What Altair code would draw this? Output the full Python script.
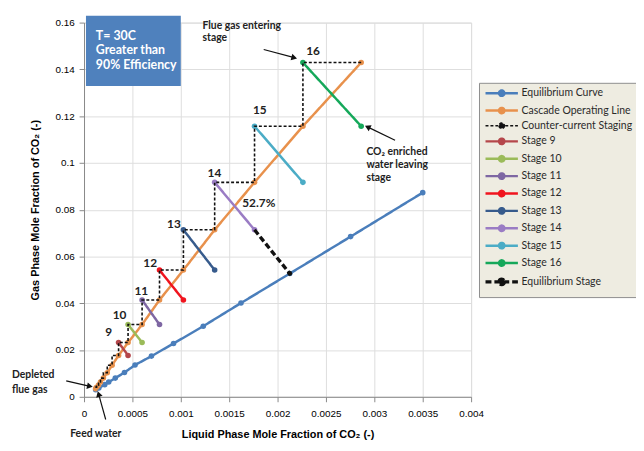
import altair as alt
import pandas as pd

# ---------------- data ----------------
eq_x = [0.00012, 0.000153, 0.000214, 0.000255, 0.000323, 0.000418, 0.000527,
        0.000697, 0.000925, 0.001232, 0.001622, 0.002126, 0.002755, 0.0035]
eq_y = [0.0030, 0.0038, 0.0052, 0.0063, 0.0080, 0.0104, 0.0136,
        0.0174, 0.0228, 0.0302, 0.0401, 0.0527, 0.0685, 0.0873]

# cascade operating line points P1..P16
op_x = [0.00012, 0.00013, 0.00015, 0.00017, 0.00020, 0.00024, 0.00029, 0.000357,
        0.000455, 0.00060, 0.00078, 0.001027, 0.00135, 0.001762, 0.002262, 0.002864]
op_y = [0.0035, 0.0041, 0.0050, 0.0063, 0.0080, 0.0103, 0.0135, 0.0177,
        0.0232, 0.0309, 0.0414, 0.0542, 0.0714, 0.0917, 0.1157, 0.1429]

stage_numbers = [9, 10, 11, 12, 13, 14, 15, 16]

eqstage_x = [0.001762, 0.002126]
eqstage_y = [0.0714, 0.0527]

series_names = ["Equilibrium Curve", "Cascade Operating Line", "Counter-current Staging",
                "Stage 9", "Stage 10", "Stage 11", "Stage 12", "Stage 13",
                "Stage 14", "Stage 15", "Stage 16", "Equilibrium Stage"]
series_colors = ["#4A7EBB", "#E8914C", "#111111",
                 "#B5474B", "#9BBB59", "#7E67A3", "#F0141E", "#375B8C",
                 "#9A7CC4", "#4BACC6", "#15A85A", "#111111"]
series_dash = [[1, 0], [1, 0], [3, 2], [1, 0], [1, 0], [1, 0], [1, 0], [1, 0],
               [1, 0], [1, 0], [1, 0], [6, 3]]
series_width = [2.5, 2.5, 1.6, 2.5, 2.5, 2.5, 2.5, 2.5, 2.5, 2.5, 2.5, 3.4]

stage_label_x = [0.000255, 0.000367, 0.000592, 0.000684, 0.000929, 0.001347, 0.001816, 0.002367]
stage_label_y = [0.0278, 0.0350, 0.0451, 0.0570, 0.0738, 0.0958, 0.1224, 0.1477]

pct_text = ["52.7%"]
pct_x = [0.001806]
pct_y = [0.0827]

box_x, box_x2 = [0.00002], [0.001]
box_y, box_y2 = [0.1629], [0.1329]
box_text = ["T= 30C", "Greater than", "90% Efficiency"]
box_text_x = [0.000122, 0.000122, 0.000122]
box_text_y = [0.1544, 0.1481, 0.1418]

note_text = ["Flue gas entering", "stage", "CO\u2082 enriched", "water leaving", "stage",
             "Depleted", "flue gas"]
note_x = [0.001224, 0.001224, 0.002918, 0.002918, 0.002918, -0.000745, -0.000745]
note_y = [0.1586, 0.1532, 0.1046, 0.0991, 0.0937, 0.0093, 0.0030]
feed_text = ["Feed water"]
feed_x = [0.000122]
feed_y = [-0.0160]

arrow_id = ["a", "a", "b", "b", "c", "c", "d", "d"]
arrow_x = [0.001857, 0.002163, 0.003214, 0.002939, -0.000184, 0.000051, 0.000224, 0.000153]
arrow_y = [0.1485, 0.1451, 0.1097, 0.1152, 0.0068, 0.0046, -0.0097, 0.0008]
arrow_angle = [105, 296, 102, 344]

# ---------------- tables ----------------
rows = []
for i, (x, y) in enumerate(zip(eq_x, eq_y)):
    rows.append({"series": "Equilibrium Curve", "x": x, "y": y, "o": i})
for i, (x, y) in enumerate(zip(op_x, op_y)):
    rows.append({"series": "Cascade Operating Line", "x": x, "y": y, "o": i})
for n in stage_numbers:
    rows.append({"series": f"Stage {n}", "x": op_x[n - 2], "y": op_y[n - 1], "o": 0})
    rows.append({"series": f"Stage {n}", "x": op_x[n - 1], "y": op_y[n - 2], "o": 1})
solid = pd.DataFrame(rows)

stair = []
k = 0
for i in range(len(op_x) - 1, 0, -1):
    stair.append({"series": "Counter-current Staging", "x": op_x[i], "y": op_y[i], "o": k}); k += 1
    stair.append({"series": "Counter-current Staging", "x": op_x[i - 1], "y": op_y[i], "o": k}); k += 1
stair.append({"series": "Counter-current Staging", "x": op_x[0], "y": op_y[0], "o": k})
stair = pd.DataFrame(stair)

eqs = pd.DataFrame({"series": "Equilibrium Stage", "x": eqstage_x, "y": eqstage_y, "o": [0, 1]})

FONT = "Lato"
xs = alt.Scale(domain=[0, 0.004], nice=False)
ys = alt.Scale(domain=[0, 0.16], nice=False)
cs = alt.Scale(domain=series_names, range=series_colors)
ds = alt.Scale(domain=series_names, range=series_dash)
ws = alt.Scale(type="ordinal", domain=series_names, range=series_width)

dot_path = "M-4.1,0L4.1,0M0.68,0A0.68,0.68,0,1,1,-0.68,0A0.68,0.68,0,1,1,0.68,0"

legend = alt.Legend(
    title=None, orient="none", legendX=400, legendY=61, direction="vertical",
    fillColor="#EEECE1", strokeColor="#8c8c8c", padding=5, rowPadding=0.6,
    labelFont=FONT, labelFontSize=10.6, labelColor="#2a2a2a", labelLimit=300,
    symbolSize=64, symbolType=dot_path,
    symbolOffset=12, labelOffset=14,
)

xaxis = alt.Axis(values=[0, 0.0005, 0.001, 0.0015, 0.002, 0.0025, 0.003, 0.0035, 0.004],
                 format="~g", labelFlush=False, labelPadding=7, titlePadding=10,
                 title="Liquid Phase Mole Fraction of CO\u2082 (-)")
yaxis = alt.Axis(values=[0, 0.02, 0.04, 0.06, 0.08, 0.1, 0.12, 0.14, 0.16],
                 format="~g", labelFlush=False, labelPadding=5, titlePadding=15,
                 title="Gas Phase Mole Fraction of CO\u2082 (-)")


def series_enc(show):
    lg = legend if show else None
    return dict(
        color=alt.Color("series:N", scale=cs, legend=lg),
        strokeDash=alt.StrokeDash("series:N", scale=ds, legend=lg),
        strokeWidth=alt.StrokeWidth("series:N", scale=ws, legend=lg),
    )


solid_layer = alt.Chart(solid).mark_line(
    point=alt.OverlayMarkDef(filled=True, size=32, opacity=1)
).encode(
    x=alt.X("x:Q", scale=xs, axis=xaxis),
    y=alt.Y("y:Q", scale=ys, axis=yaxis),
    order="o:Q",
    **series_enc(True),
)

stair_layer = alt.Chart(stair).mark_line().encode(
    x=alt.X("x:Q", scale=xs), y=alt.Y("y:Q", scale=ys), order="o:Q", **series_enc(False))

eqs_layer = alt.Chart(eqs).mark_line().encode(
    x=alt.X("x:Q", scale=xs), y=alt.Y("y:Q", scale=ys), order="o:Q", **series_enc(False))
eqs_dot = alt.Chart(eqs.iloc[[1]]).mark_point(filled=True, size=25, color="#111111", opacity=1).encode(
    x=alt.X("x:Q", scale=xs), y=alt.Y("y:Q", scale=ys))

# annotations
box = alt.Chart(pd.DataFrame({"x": box_x, "x2": box_x2, "y": box_y, "y2": box_y2})).mark_rect(
    color="#4F81BD").encode(x=alt.X("x:Q", scale=xs), x2="x2:Q", y=alt.Y("y:Q", scale=ys), y2="y2:Q")
box_txt = alt.Chart(pd.DataFrame({"x": box_text_x, "y": box_text_y, "t": box_text})).mark_text(
    align="left", baseline="middle", font=FONT, fontSize=12.5, fontWeight="bold", color="white"
).encode(x=alt.X("x:Q", scale=xs), y=alt.Y("y:Q", scale=ys), text="t:N")

stage_txt = alt.Chart(pd.DataFrame({"x": stage_label_x, "y": stage_label_y,
                                    "t": [str(n) for n in stage_numbers]})).mark_text(
    align="center", baseline="middle", font=FONT, fontSize=12, fontWeight="bold", color="#222222"
).encode(x=alt.X("x:Q", scale=xs), y=alt.Y("y:Q", scale=ys), text="t:N")

pct_txt = alt.Chart(pd.DataFrame({"x": pct_x, "y": pct_y, "t": pct_text})).mark_text(
    align="center", baseline="middle", font=FONT, fontSize=12, fontWeight="bold", color="#222222"
).encode(x=alt.X("x:Q", scale=xs), y=alt.Y("y:Q", scale=ys), text="t:N")

note_txt = alt.Chart(pd.DataFrame({"x": note_x, "y": note_y, "t": note_text})).mark_text(
    align="left", baseline="middle", font=FONT, fontSize=10.5, fontWeight="bold", color="#222222"
).encode(x=alt.X("x:Q", scale=xs), y=alt.Y("y:Q", scale=ys), text="t:N")

feed_txt = alt.Chart(pd.DataFrame({"x": feed_x, "y": feed_y, "t": feed_text})).mark_text(
    align="center", baseline="middle", font=FONT, fontSize=10.5, fontWeight="bold", color="#222222"
).encode(x=alt.X("x:Q", scale=xs), y=alt.Y("y:Q", scale=ys), text="t:N")

arrows = pd.DataFrame({"id": arrow_id, "x": arrow_x, "y": arrow_y, "o": [0, 1] * 4})
arrow_lines = alt.Chart(arrows).mark_line(color="#111111", strokeWidth=1.2).encode(
    x=alt.X("x:Q", scale=xs), y=alt.Y("y:Q", scale=ys), detail="id:N", order="o:Q")
heads = arrows[arrows["o"] == 1].copy()
heads["angle"] = arrow_angle
arrow_heads = alt.Chart(heads).mark_point(shape="triangle", filled=True, size=45,
                                          color="#111111", opacity=1).encode(
    x=alt.X("x:Q", scale=xs), y=alt.Y("y:Q", scale=ys),
    angle=alt.Angle("angle:Q", scale=None))

chart = alt.layer(
    solid_layer, stair_layer, eqs_layer, eqs_dot,
    box, box_txt, stage_txt, pct_txt, note_txt, feed_txt, arrow_lines, arrow_heads,
).properties(
    width=392, height=379,
    autosize=alt.AutoSizeParams(type="none"),
    padding={"left": 77, "top": 12, "right": 167, "bottom": 44},
).configure_axis(
    labelFont=FONT, labelFontSize=11, labelColor="#404040",
    titleFont=FONT, titleFontSize=13, titleFontWeight="bold", titleColor="#333333",
    gridColor="#cfcfcf", domainColor="#a0a0a0", tickColor="#a0a0a0", tickSize=4,
).configure_view(
    stroke=None
).configure(background="white")

chart.save("out.html", embed_options={"renderer": "svg", "actions": False})
